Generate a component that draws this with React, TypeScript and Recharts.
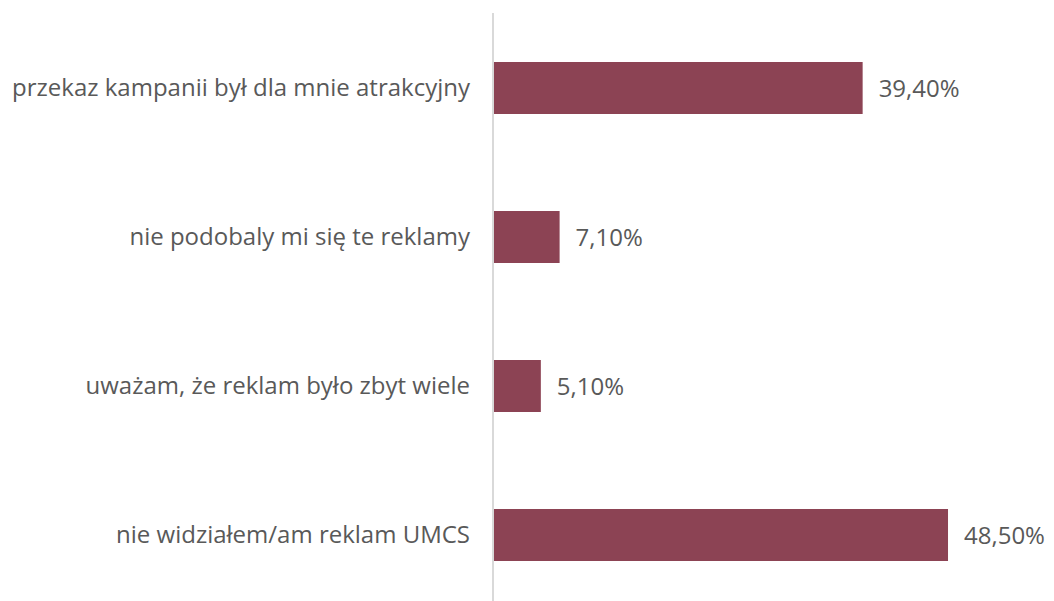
import React from "react";
import { Bar, BarChart, LabelList, XAxis, YAxis } from "recharts";

const categories = [
  "przekaz kampanii był dla mnie atrakcyjny",
  "nie podobaly mi się te reklamy",
  "uważam, że reklam było zbyt wiele",
  "nie widziałem/am reklam UMCS",
];
const shares = [39.4, 7.1, 5.1, 48.5];

const data = categories.map((name, i) => ({ name, value: shares[i] }));

const fmt = (v: number) => `${v.toFixed(2).replace(".", ",")}%`;

export default function App() {
  return (
    <div
      style={{
        position: "fixed",
        left: 0,
        top: 0,
        width: 1054,
        height: 601,
        overflow: "hidden",
        background: "#fff",
        fontFamily: "'Open Sans', sans-serif",
      }}
    >
      <BarChart
        width={1054}
        height={609}
        data={data}
        layout="vertical"
        margin={{ top: 13, right: 45, bottom: 0, left: 0 }}
      >
        <XAxis type="number" domain={[0, 55]} hide />
        <YAxis
          type="category"
          dataKey="name"
          width={493}
          axisLine={{ stroke: "#d9d9d9", strokeWidth: 2 }}
          tickLine={false}
          tickSize={0}
          tickMargin={23}
          tick={{ fill: "#595959", fontSize: 24 }}
        />
        <Bar dataKey="value" fill="#8c4354" barSize={52} isAnimationActive={false}>
          <LabelList
            dataKey="value"
            position="right"
            offset={16}
            formatter={(v: any) => fmt(Number(v))}
            style={{ fill: "#595959", fontSize: 24 }}
          />
        </Bar>
      </BarChart>
    </div>
  );
}
